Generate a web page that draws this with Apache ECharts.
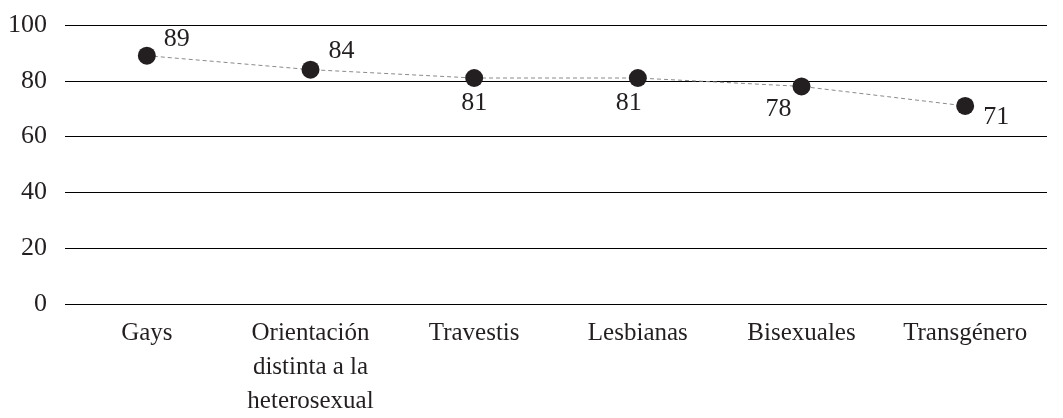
<!DOCTYPE html>
<html>
<head>
<meta charset="utf-8">
<script src="https://cdn.jsdelivr.net/npm/echarts@6/dist/echarts.min.js"></script>
<style>
  html, body { margin: 0; padding: 0; background: #fff; }
  #chart { width: 1063px; height: 418px; }
</style>
</head>
<body>
<div id="chart"></div>
<script>
// categorias y valores
const categories = ['Gays', 'Orientación\ndistinta a la\nheterosexual', 'Travestis', 'Lesbianas', 'Bisexuales', 'Transgénero'];
const values = [89, 84, 81, 81, 78, 71];
const yTicks = [0, 20, 40, 60, 80, 100];

// where each number sits relative to its dot
const labelOffsets = [[30, -17], [31, -18], [0, 25], [-9, 25], [-23, 23], [31, 11]];

const font = '"Liberation Serif", "DejaVu Serif", serif';
const chart = echarts.init(document.getElementById('chart'));

const option = {
  animation: false,
  textStyle: { fontFamily: font },
  grid: { left: 65, right: 16, top: 25, bottom: 114, containLabel: false },
  xAxis: {
    type: 'category',
    data: categories,
    boundaryGap: true,
    axisLine: { show: false },
    axisTick: { show: false },
    axisLabel: {
      color: '#231f20', fontSize: 25, fontFamily: font,
      lineHeight: 34, margin: 12, interval: 0
    }
  },
  yAxis: {
    type: 'value',
    min: yTicks[0],
    max: yTicks[yTicks.length - 1],
    interval: 20,
    axisLine: { show: false },
    axisTick: { show: false },
    axisLabel: { color: '#231f20', fontSize: 26, fontFamily: font, margin: 18 },
    splitLine: { lineStyle: { color: '#000', width: 1 } }
  },
  series: [{
    type: 'line',
    data: values.map((v, i) => ({
      value: v,
      label: { offset: labelOffsets[i] }
    })),
    symbol: 'circle',
    symbolSize: 18,
    itemStyle: { color: '#231f20' },
    lineStyle: { color: '#8a8a8a', width: 1, type: [4, 3] },
    label: {
      show: true,
      position: 'inside',
      color: '#231f20',
      fontSize: 26,
      fontFamily: font,
      align: 'center',
      verticalAlign: 'middle'
    }
  }]
};
chart.setOption(option);
</script>
</body>
</html>
